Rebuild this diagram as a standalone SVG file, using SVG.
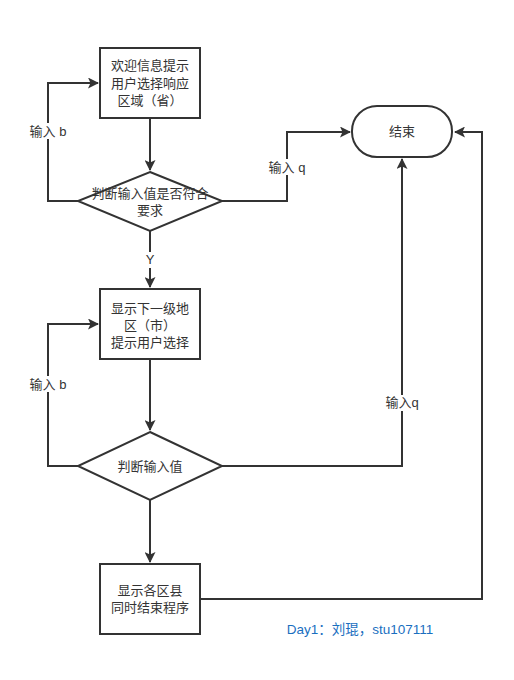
<svg xmlns="http://www.w3.org/2000/svg" width="514" height="680" viewBox="0 0 514 680">
<style>
.n{fill:#fff;stroke:#333;stroke-width:2}
.t{font-family:"Liberation Sans","Noto Sans CJK SC",sans-serif;font-size:13px;fill:#333;text-anchor:middle}
.c{fill:none;stroke:#333;stroke-width:2}
.lb{fill:#fff}
</style>
<defs>
<marker id="a" markerWidth="11" markerHeight="11" refX="10" refY="5.5" orient="auto" markerUnits="userSpaceOnUse">
<path d="M0,0 L11,5.5 L0,11 L2.5,5.5 Z" fill="#333"/>
</marker>
</defs>
<rect width="514" height="680" fill="#fff"/>
<g id="connectors">
<path class="c" d="M150,118 V170" marker-end="url(#a)"/>
<path class="c" d="M78,201 H48 V83 H98" marker-end="url(#a)"/>
<path class="c" d="M222,201 H287 V132 H350" marker-end="url(#a)"/>
<path class="c" d="M150,231 V287" marker-end="url(#a)"/>
<path class="c" d="M150,359 V430" marker-end="url(#a)"/>
<path class="c" d="M78,466 H48 V324 H98" marker-end="url(#a)"/>
<path class="c" d="M222,466 H402 V159" marker-end="url(#a)"/>
<path class="c" d="M150,500 V562" marker-end="url(#a)"/>
<path class="c" d="M200,599 H482 V132 H455" marker-end="url(#a)"/>
<rect class="lb" x="27" y="123" width="42" height="16"/>
<text class="t" x="48" y="136">输入 b</text>
<rect class="lb" x="266" y="159" width="42" height="16"/>
<text class="t" x="287" y="172">输入 q</text>
<rect class="lb" x="144" y="252" width="12" height="16"/>
<text class="t" x="150" y="264">Y</text>
<rect class="lb" x="27" y="376" width="42" height="16"/>
<text class="t" x="48" y="389">输入 b</text>
<rect class="lb" x="384" y="395" width="36" height="16"/>
<text class="t" x="402" y="407">输入q</text>
</g>
<g id="start">
<rect class="n" x="100" y="48" width="100" height="70"/>
<text class="t" x="150" y="70">欢迎信息提示</text>
<text class="t" x="150" y="88">用户选择响应</text>
<text class="t" x="150" y="105">区域（省）</text>
</g>
<g id="check1">
<path class="n" d="M150,172 L222,201 L150,231 L78,201 Z"/>
<text class="t" x="150" y="198">判断输入值是否符合</text>
<text class="t" x="150" y="215">要求</text>
</g>
<g id="end">
<rect class="n" x="352" y="106" width="100" height="51" rx="25" ry="25"/>
<text class="t" x="402" y="136">结束</text>
</g>
<g id="city">
<rect class="n" x="100" y="289" width="100" height="70"/>
<text class="t" x="150" y="313">显示下一级地</text>
<text class="t" x="150" y="330">区（市）</text>
<text class="t" x="150" y="347">提示用户选择</text>
</g>
<g id="check2">
<path class="n" d="M150,432 L222,466 L150,500 L78,466 Z"/>
<text class="t" x="150" y="471">判断输入值</text>
</g>
<g id="county">
<rect class="n" x="100" y="564" width="100" height="70"/>
<text class="t" x="150" y="595">显示各区县</text>
<text class="t" x="150" y="612">同时结束程序</text>
</g>
<text class="t" x="360" y="634" style="fill:#1a6fbf;font-size:13.5px">Day1：刘琨，stu107111</text>
</svg>
